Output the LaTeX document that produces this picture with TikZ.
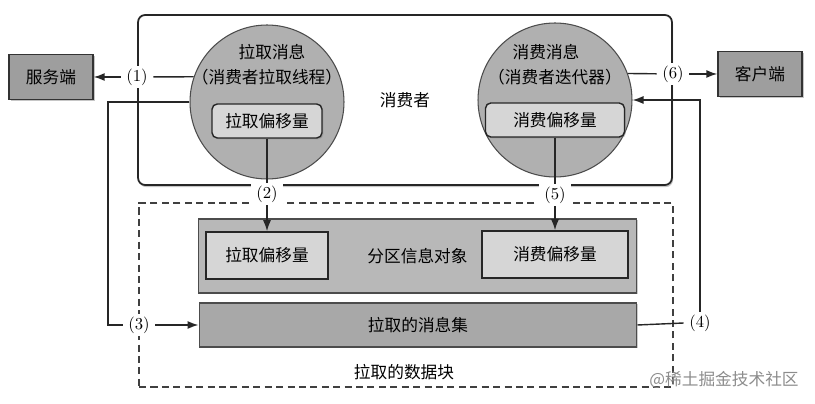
\documentclass[tikz,border=0pt]{standalone}
\usepackage{fontspec}
\newfontfamily\cjk{Noto Sans CJK SC}
\usetikzlibrary{arrows.meta,shadows}
\definecolor{endgray}{gray}{0.62}
\definecolor{circlegray}{gray}{0.69}
\definecolor{innergray}{gray}{0.84}
\definecolor{partgray}{gray}{0.72}
\definecolor{setgray}{gray}{0.66}
\definecolor{markgray}{gray}{0.55}

\begin{document}
\begin{tikzpicture}[
    x=0.02cm, y=-0.02cm,
    % Estilos de nodos
    zh/.style={font=\cjk\fontsize{9.5}{11}\selectfont},
    end box/.style={zh, draw=black!80, fill=endgray, line width=0.8pt, minimum width=1.68cm, minimum height=0.9cm,
        drop shadow={shadow xshift=1pt, shadow yshift=-1pt, opacity=0.45}},
    group box/.style={zh, draw=black!85, line width=1pt, rounded corners=4pt, fill=white,
        drop shadow={shadow xshift=0.6pt, shadow yshift=-1.2pt, opacity=0.45}},
    part circle/.style={circle, draw=black!70, fill=circlegray, line width=0.6pt, minimum size=3.08cm, inner sep=0pt},
    offset tag/.style={zh, draw=black!85, fill=innergray, line width=0.8pt, rounded corners=3pt, minimum height=0.68cm,
        drop shadow={shadow xshift=0.8pt, shadow yshift=-0.8pt, opacity=0.4}},
    offset box/.style={zh, draw=black!85, fill=innergray, line width=0.9pt, minimum height=0.94cm},
    data box/.style={zh, draw=black!70, line width=0.6pt,
        drop shadow={shadow xshift=0.8pt, shadow yshift=-0.8pt, opacity=0.4}},
    chunk box/.style={draw=black!75, line width=0.8pt, dash pattern=on 4pt off 2.5pt},
    step label/.style={fill=white, inner sep=1.5pt, inner xsep=3pt, font=\fontsize{9.5}{11}\selectfont},
    % Estilos de aristas
    link/.style={draw=black!85, line width=0.8pt},
    flow/.style={link, -{Latex[length=2.2mm, width=1.6mm]}}
]
\useasboundingbox (0,0) rectangle (815,404);

% 1. Extremos
\node[end box] (server) at (51,77) {服务端};
\node[end box] (client) at (760,74) {客户端};

% 2. Consumidor
\node[group box, minimum width=10.68cm, minimum height=3.4cm] (consumer) at (405,100) {消费者};
\node[part circle] (pullc) at (267,102) {};
\node[part circle] (consc) at (555,100) {};
\node[zh] at (272,52) {拉取消息};
\node[zh] at (267,77) {（消费者拉取线程）};
\node[zh] at (546,52) {消费消息};
\node[zh] at (555,77) {（消费者迭代器）};
\node[offset tag, minimum width=2.2cm] (pulltag) at (267,121) {拉取偏移量};
\node[offset tag, minimum width=2.78cm] (constag) at (555,120) {消费偏移量};

% 3. Bloque de datos
\node[chunk box, minimum width=10.68cm, minimum height=3.68cm] (chunk) at (406,295) {};
\node[data box, fill=partgray, minimum width=8.78cm, minimum height=1.48cm] (part) at (417.5,256) {分区信息对象};
\node[offset box, minimum width=2.44cm] (pulloff) at (267,255.5) {拉取偏移量};
\node[offset box, minimum width=2.92cm] (consoff) at (555,254.5) {消费偏移量};
\node[data box, fill=setgray, minimum width=8.76cm, minimum height=0.88cm] (msgset) at (418,325) {拉取的消息集};
\node[zh] at (404,372) {拉取的数据块};

% 4. Etiquetas de pasos
\foreach \n/\x/\y in {1/137/77, 2/267/194, 3/139/325, 4/700/323, 5/555/195, 6/673/74}{
    \node[step label] (l\n) at (\x,\y) {(\n)};
}

% 5. Conexiones
\coordinate (bend3) at (108,102);
\draw[link] (pullc.161) -- (l1);
\draw[flow] (l1) -- (server);
\draw[link] (pulltag) -- (l2);
\draw[flow] (l2) -- (pulloff);
\draw[link] (pullc.west) -- (bend3) |- (l3);
\draw[flow] (l3) -- (msgset);
\draw[link] (msgset.east) -- (l4.west);
\draw[flow] (l4.north) |- (consc.east);
\draw[link] (constag) -- (l5);
\draw[flow] (l5) -- (consoff);
\draw[link] (consc.20) -- (l6);
\draw[flow] (l6) -- (client);

\node[zh, text=markgray] (mark) at (724,380) {@稀土掘金技术社区};

\end{tikzpicture}
\end{document}
